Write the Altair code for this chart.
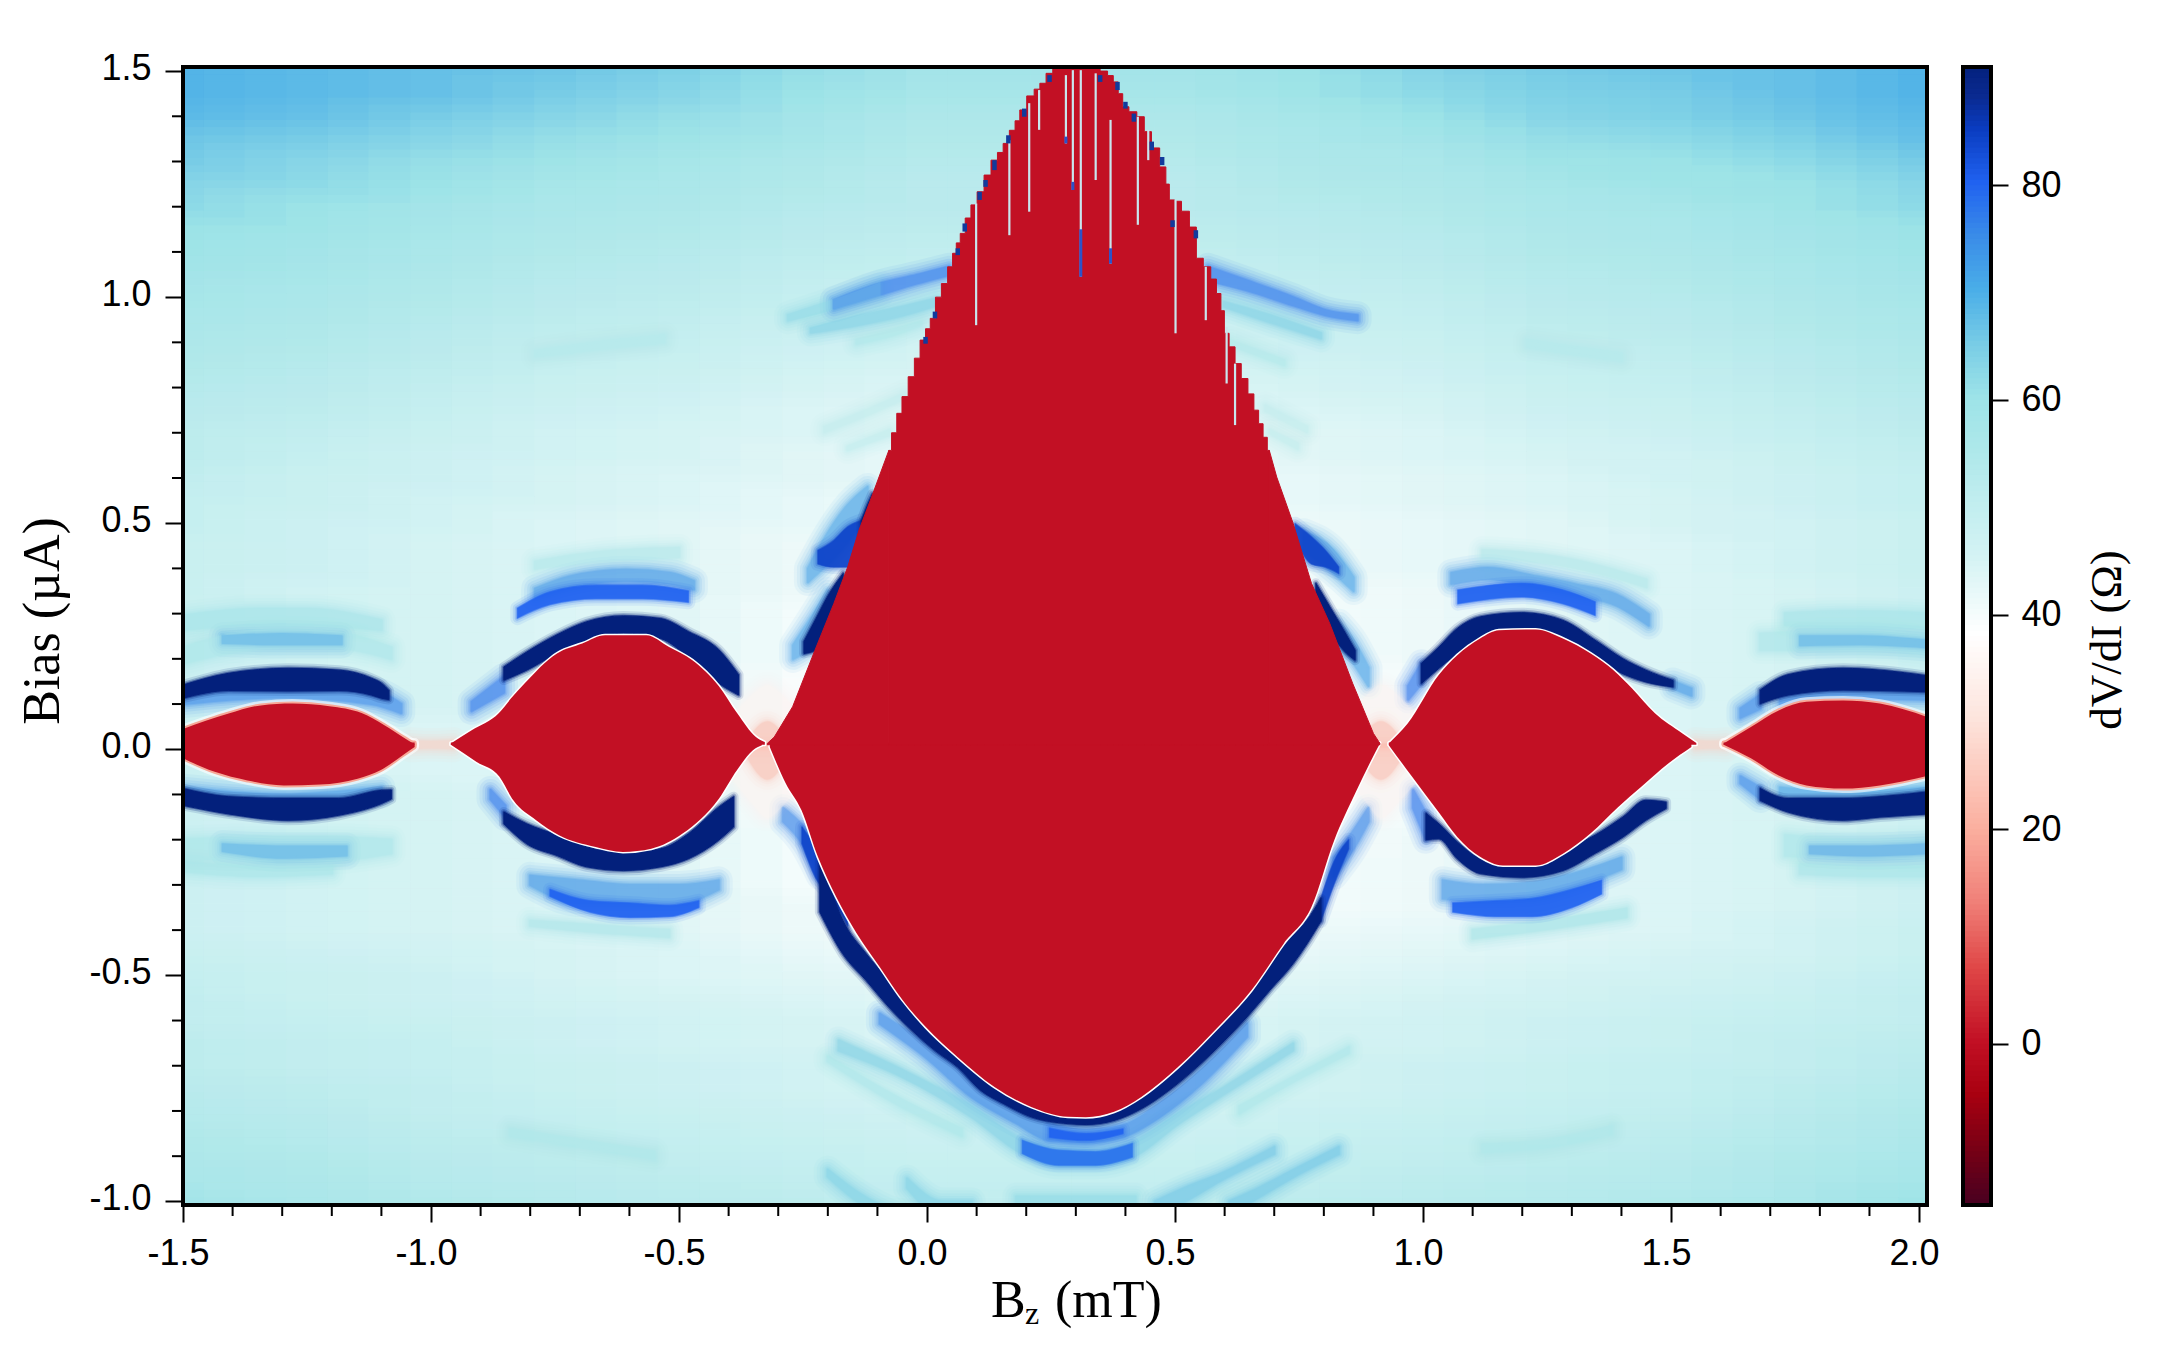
import altair as alt
import pandas as pd

# colour bar stops
color_stops = [-15, -10, -5, 0, 7, 13, 20, 30, 38, 45, 55, 60, 65, 70, 75, 80, 85, 88, 91]
color_hex = ["#4a0020", "#780015", "#a80010", "#c21024", "#e04848", "#f08078", "#fbb0a0", "#fde4dc",
             "#ffffff", "#d5f3f4", "#aee8ea", "#9de3e8", "#78cce6", "#4aaee8", "#3a8ce8", "#2062f0",
             "#0a3cc0", "#0a2a90", "#03207c"]
cscale = alt.Scale(domain=color_stops, range=color_hex, clamp=True, interpolate="rgb")

# background dV/dI, rows from +1.5 to -1.0 uA
grid_bias = [1.5, 1.45, 1.4, 1.35, 1.3, 1.25, 1.2, 1.15, 1.1, 1.05, 1.0, 0.95, 0.9, 0.85, 0.8, 0.75, 0.7,
             0.65, 0.6, 0.55, 0.5, 0.45, 0.4, 0.35, 0.3, 0.25, 0.2, 0.15, 0.1, 0.05, 0.0, -0.05, -0.1, -0.15,
             -0.2, -0.25, -0.3, -0.35, -0.4, -0.45, -0.5, -0.55, -0.6, -0.65, -0.7, -0.75, -0.8, -0.85, -0.9,
             -0.95, -1.0]
grid_bz = [-1.5, -1.25, -1.0, -0.75, -0.5, -0.25, 0.0, 0.25, 0.5, 0.75, 1.0, 1.25, 1.5, 1.75, 2.0]
grid_rows = [
    [69, 68, 67, 66, 64, 61, 58, 58, 58, 60, 63, 65, 66, 67, 69],
    [69, 68, 67, 65, 63, 60, 57, 57, 57, 59, 62, 64, 65, 67, 69],
    [68, 67, 65, 63, 61, 58, 55, 55, 55, 57, 60, 63, 64, 66, 68],
    [66, 65, 63, 61, 59, 57, 54, 54, 54, 56, 58, 61, 62, 64, 67],
    [65, 63, 61, 59, 57, 55, 53, 53, 53, 55, 56, 59, 60, 62, 65],
    [63, 62, 60, 57, 56, 54, 52, 52, 52, 54, 55, 57, 59, 60, 63],
    [62, 60, 58, 56, 55, 53, 52, 52, 52, 53, 54, 56, 57, 59, 62],
    [60, 59, 57, 55, 54, 52, 51, 51, 51, 52, 53, 55, 56, 58, 60],
    [59, 58, 56, 54, 53, 51, 50, 50, 50, 51, 52, 54, 55, 57, 59],
    [58, 57, 55, 53, 52, 50, 49, 49, 49, 50, 51, 53, 54, 56, 58],
    [57, 56, 54, 52, 51, 49, 48, 48, 48, 49, 50, 52, 53, 55, 57],
    [56, 55, 53, 51, 50, 48, 47, 47, 47, 48, 49, 51, 52, 54, 56],
    [55, 54, 52, 50, 49, 47, 46, 46, 46, 47, 48, 50, 51, 53, 55],
    [54, 53, 51, 49, 48, 46, 45, 45, 45, 46, 47, 49, 50, 52, 54],
    [53, 52, 50, 48, 47, 45, 44, 44, 44, 45, 46, 48, 49, 51, 53],
    [52, 51, 49, 47, 46, 44, 43, 43, 43, 44, 45, 47, 48, 50, 52],
    [51, 50, 48, 46, 45, 44, 43, 43, 43, 43, 44, 46, 47, 49, 51],
    [51, 49, 47, 46, 45, 43, 42, 42, 42, 43, 44, 45, 46, 48, 50],
    [50, 48, 47, 45, 44, 43, 42, 42, 42, 42, 43, 44, 46, 47, 49],
    [49, 48, 46, 45, 44, 42, 41, 41, 41, 42, 43, 44, 45, 47, 49],
    [49, 47, 46, 44, 43, 42, 41, 41, 41, 41, 42, 43, 45, 46, 48],
    [48, 47, 45, 44, 43, 41, 40, 40, 40, 41, 42, 43, 44, 46, 48],
    [48, 47, 45, 44, 43, 41, 40, 40, 40, 41, 42, 43, 44, 46, 48],
    [48, 46, 45, 44, 43, 41, 40, 40, 40, 40, 41, 43, 44, 45, 47],
    [47, 46, 45, 44, 43, 40, 40, 40, 40, 40, 41, 43, 44, 45, 47],
    [47, 46, 45, 44, 43, 40, 39, 39, 39, 40, 41, 43, 44, 45, 47],
    [47, 46, 45, 44, 43, 40, 39, 39, 39, 39, 41, 43, 44, 45, 47],
    [47, 46, 45, 44, 43, 39, 39, 39, 39, 39, 40, 43, 44, 45, 47],
    [47, 46, 45, 44, 43, 39, 39, 39, 39, 39, 40, 43, 44, 45, 47],
    [47, 46, 44, 44, 43, 39, 39, 39, 39, 39, 40, 43, 44, 45, 47],
    [47, 46, 44, 44, 43, 39, 39, 39, 39, 39, 40, 43, 44, 45, 47],
    [47, 46, 44, 44, 43, 39, 39, 39, 39, 39, 40, 43, 44, 45, 47],
    [47, 46, 45, 44, 43, 39, 39, 39, 39, 39, 40, 43, 44, 45, 47],
    [47, 46, 45, 44, 43, 39, 39, 39, 39, 39, 40, 43, 44, 45, 47],
    [47, 46, 45, 44, 43, 40, 39, 39, 39, 39, 41, 43, 44, 45, 47],
    [47, 46, 45, 44, 43, 40, 39, 39, 39, 40, 41, 43, 44, 45, 47],
    [47, 46, 45, 44, 43, 40, 40, 40, 40, 40, 41, 43, 44, 45, 47],
    [47, 46, 45, 44, 43, 41, 40, 40, 40, 40, 41, 43, 44, 45, 47],
    [47, 46, 45, 44, 43, 41, 40, 40, 40, 41, 42, 43, 44, 46, 48],
    [48, 47, 46, 45, 44, 42, 41, 41, 41, 42, 43, 44, 45, 46, 48],
    [49, 48, 47, 45, 44, 43, 42, 42, 42, 43, 44, 45, 46, 47, 49],
    [50, 48, 47, 46, 45, 44, 43, 43, 43, 44, 45, 46, 47, 48, 50],
    [50, 49, 48, 47, 46, 45, 44, 44, 44, 45, 46, 47, 48, 49, 50],
    [51, 50, 49, 47, 46, 45, 44, 44, 44, 45, 46, 47, 48, 50, 51],
    [51, 50, 49, 48, 47, 46, 45, 45, 45, 46, 47, 48, 49, 50, 52],
    [52, 51, 50, 48, 47, 46, 45, 45, 45, 46, 47, 48, 49, 51, 53],
    [53, 52, 50, 49, 48, 47, 46, 46, 46, 47, 48, 49, 50, 52, 54],
    [54, 53, 51, 50, 49, 48, 47, 47, 47, 48, 49, 50, 51, 53, 55],
    [55, 54, 52, 51, 50, 49, 48, 48, 48, 49, 50, 51, 52, 54, 56],
    [56, 55, 53, 52, 51, 50, 49, 49, 49, 50, 51, 52, 53, 55, 57],
    [58, 56, 54, 53, 52, 51, 50, 50, 50, 51, 52, 53, 54, 56, 59],
]

# zero-resistance lobes, edges
a_up_bz = [-1.5, -1.408, -1.343, -1.279, -1.205, -1.14, -1.094, -1.057, -1.033]
a_up_i = [0.045, 0.079, 0.097, 0.101, 0.095, 0.08, 0.053, 0.027, 0.011]
a_lo_bz = [-1.5, -1.436, -1.37, -1.297, -1.223, -1.148, -1.101, -1.057, -1.033]
a_lo_i = [-0.02, -0.05, -0.069, -0.08, -0.078, -0.065, -0.046, -0.013, 0.005]
b_up_bz = [-0.96, -0.918, -0.863, -0.839, -0.812, -0.746, -0.695, -0.649, -0.566, -0.52, -0.473, -0.42, -0.383, -0.345, -0.327]
b_up_i = [0.013, 0.042, 0.08, 0.112, 0.145, 0.212, 0.234, 0.252, 0.252, 0.226, 0.197, 0.14, 0.08, 0.027, 0.016]
b_lo_bz = [-0.96, -0.908, -0.862, -0.834, -0.788, -0.742, -0.668, -0.613, -0.556, -0.492, -0.42, -0.383, -0.351, -0.333]
b_lo_i = [0.01, -0.028, -0.061, -0.113, -0.157, -0.19, -0.216, -0.227, -0.22, -0.186, -0.11, -0.046, -0.002, 0.009]
c_up_bz = [0.931, 0.969, 1.032, 1.069, 1.115, 1.153, 1.227, 1.282, 1.338, 1.384, 1.421, 1.467, 1.523, 1.551]
c_up_i = [0.013, 0.057, 0.165, 0.208, 0.245, 0.263, 0.265, 0.245, 0.212, 0.175, 0.135, 0.08, 0.035, 0.014]
c_lo_bz = [0.931, 0.978, 1.032, 1.069, 1.115, 1.161, 1.227, 1.282, 1.338, 1.393, 1.44, 1.495, 1.541]
c_lo_i = [0.009, -0.061, -0.14, -0.194, -0.238, -0.257, -0.257, -0.231, -0.186, -0.128, -0.083, -0.031, 0.005]
d_up_bz = [1.606, 1.661, 1.717, 1.773, 1.847, 1.921, 2.02]
d_up_i = [0.013, 0.049, 0.086, 0.105, 0.108, 0.101, 0.07]
d_lo_bz = [1.606, 1.661, 1.717, 1.773, 1.847, 1.921, 2.02]
d_lo_i = [0.01, -0.02, -0.058, -0.08, -0.087, -0.08, -0.058]
main_ul_bz = [-0.322, -0.308, -0.271, -0.226, -0.188, -0.16, -0.137, -0.109, -0.077]
main_ul_i = [0.013, 0.027, 0.094, 0.219, 0.322, 0.403, 0.485, 0.566, 0.661]
main_ur_bz = [0.69, 0.705, 0.738, 0.775, 0.812, 0.858, 0.9, 0.913]
main_ur_i = [0.661, 0.602, 0.5, 0.367, 0.278, 0.146, 0.035, 0.013]
main_peak_bz = [-0.077, -0.066, -0.056, -0.045, -0.031, -0.02, -0.008, 0.002, 0.011, 0.023, 0.035, 0.048, 0.055, 0.063,
                0.071, 0.083, 0.094, 0.108, 0.122, 0.136, 0.148, 0.159, 0.173, 0.182, 0.192, 0.21, 0.222, 0.233, 0.247,
                0.26, 0.34, 0.358, 0.37, 0.381, 0.39, 0.399, 0.415, 0.431, 0.445, 0.46, 0.478, 0.485, 0.492, 0.506, 0.52,
                0.538, 0.548, 0.566, 0.578, 0.589, 0.596, 0.603, 0.615, 0.627, 0.64, 0.654, 0.664, 0.673, 0.682, 0.69]
main_peak_i = [0.661, 0.7, 0.743, 0.78, 0.824, 0.865, 0.905, 0.93, 0.953, 1.0, 1.03, 1.067, 1.097, 1.12,
               1.141, 1.175, 1.204, 1.233, 1.27, 1.303, 1.32, 1.34, 1.369, 1.39, 1.414, 1.445, 1.46, 1.473, 1.495,
               1.51, 1.51, 1.5, 1.49, 1.476, 1.45, 1.421, 1.41, 1.399, 1.366, 1.33, 1.288, 1.25, 1.215, 1.212, 1.19,
               1.155, 1.086, 1.067, 1.04, 1.008, 0.97, 0.92, 0.89, 0.853, 0.82, 0.786, 0.75, 0.72, 0.69, 0.661]
main_lo_bz = [-0.317, -0.285, -0.253, -0.22, -0.183, -0.142, -0.095, -0.049, -0.003, 0.062, 0.136, 0.21, 0.284, 0.32,
              0.377, 0.432, 0.506, 0.58, 0.654, 0.719, 0.775, 0.821, 0.863, 0.904, 0.913]
main_lo_i = [0.005, -0.075, -0.135, -0.238, -0.327, -0.407, -0.482, -0.555, -0.614, -0.681, -0.747, -0.791, -0.813,
             -0.814, -0.802, -0.769, -0.703, -0.622, -0.533, -0.43, -0.349, -0.201, -0.098, -0.006, 0.013]

# bands: (dV/dI, Bz, top edge, bottom edge)
p1 = (35, [-0.4, -0.35, -0.322, -0.295, -0.24], [0.06, 0.12, 0.14, 0.12, 0.05], [0.0, 0.0, 0.0, 0.0, 0.0])
p2 = (20, [-0.36, -0.322, -0.285], [0.02, 0.06, 0.02], [0.0, 0.0, 0.0])
p3 = (35, [-0.4, -0.35, -0.322, -0.29, -0.24], [0.0, 0.0, 0.0, 0.0, 0.0], [-0.05, -0.12, -0.15, -0.12, -0.05])
p4 = (20, [-0.36, -0.322, -0.285], [0.01, 0.01, 0.01], [-0.02, -0.065, -0.02])
p5 = (35, [0.85, 0.89, 0.915, 0.945, 1.0], [0.05, 0.12, 0.14, 0.12, 0.05], [0.0, 0.0, 0.0, 0.0, 0.0])
p6 = (20, [0.875, 0.915, 0.955], [0.02, 0.06, 0.02], [0.0, 0.0, 0.0])
p7 = (35, [0.85, 0.89, 0.915, 0.945, 1.0], [0.0, 0.0, 0.0, 0.0, 0.0], [-0.05, -0.12, -0.15, -0.12, -0.05])
p8 = (20, [0.875, 0.915, 0.955], [0.01, 0.01, 0.01], [-0.02, -0.065, -0.02])
p9 = (26, [-1.04, -1.0, -0.955], [0.018, 0.016, 0.018], [0.002, 0.004, 0.002])
p10 = (26, [1.55, 1.58, 1.61], [0.018, 0.016, 0.018], [0.002, 0.004, 0.002])

a2 = (56, [-1.5, -1.4, -1.3, -1.2, -1.08], [0.225, 0.255, 0.265, 0.26, 0.225], [0.19, 0.215, 0.225, 0.225, 0.2])
a2c = (72, [-1.42, -1.3, -1.18], [0.25, 0.255, 0.25], [0.235, 0.232, 0.232])
a3 = (58, [-1.5, -1.35, -1.25, -1.1], [0.295, 0.31, 0.31, 0.285], [0.265, 0.275, 0.275, 0.265])
a1f = (76, [-1.5, -1.3, -1.12, -1.06], [0.12, 0.135, 0.13, 0.1], [0.1, 0.115, 0.1, 0.08])
a4 = (74, [-1.5, -1.3, -1.1], [-0.085, -0.1, -0.085], [-0.1, -0.115, -0.1])
a5 = (56, [-1.5, -1.35, -1.2, -1.08], [-0.2, -0.195, -0.195, -0.2], [-0.24, -0.245, -0.245, -0.23])
a5c = (72, [-1.42, -1.3, -1.17], [-0.21, -0.215, -0.215], [-0.225, -0.24, -0.235])
a6 = (57, [-1.5, -1.35, -1.2], [-0.25, -0.26, -0.26], [-0.27, -0.28, -0.275])
d2 = (56, [1.68, 1.8, 1.92, 2.02], [0.255, 0.26, 0.26, 0.25], [0.22, 0.22, 0.22, 0.21])
d2c = (72, [1.76, 1.88, 2.02], [0.25, 0.25, 0.24], [0.23, 0.232, 0.225])
d3 = (58, [1.73, 1.85, 2.02], [0.3, 0.305, 0.3], [0.275, 0.27, 0.27])
d1f = (76, [1.72, 1.85, 2.02], [0.115, 0.135, 0.13], [0.095, 0.112, 0.11])
d4 = (72, [1.72, 1.85, 2.02], [-0.085, -0.095, -0.085], [-0.1, -0.11, -0.1])
d5 = (56, [1.73, 1.88, 2.02], [-0.19, -0.2, -0.2], [-0.235, -0.24, -0.24])
d5c = (74, [1.78, 1.9, 2.02], [-0.215, -0.215, -0.21], [-0.23, -0.235, -0.23])
d6 = (57, [1.76, 1.9, 2.02], [-0.255, -0.26, -0.26], [-0.275, -0.28, -0.28])

a1 = (91, [-1.5, -1.408, -1.288, -1.186, -1.12, -1.1, -1.085], [0.142, 0.168, 0.179, 0.175, 0.157, 0.146, 0.13],
      [0.113, 0.13, 0.129, 0.13, 0.12, 0.113, 0.11])
a7 = (91, [-1.5, -1.408, -1.288, -1.186, -1.1, -1.08], [-0.087, -0.105, -0.109, -0.109, -0.091, -0.09],
      [-0.124, -0.143, -0.157, -0.146, -0.12, -0.11])
d1t = (76, [1.64, 1.68], [0.09, 0.12], [0.07, 0.09])
d1 = (91, [1.68, 1.736, 1.847, 1.921, 2.02], [0.131, 0.165, 0.179, 0.175, 0.162], [0.101, 0.12, 0.131, 0.13, 0.127])
d7t = (76, [1.64, 1.68], [-0.06, -0.085], [-0.075, -0.11])
d7 = (91, [1.68, 1.736, 1.847, 1.921, 2.02], [-0.087, -0.109, -0.109, -0.105, -0.094],
      [-0.113, -0.139, -0.157, -0.15, -0.143])

b1t = (78, [-0.918, -0.853], [0.105, 0.16], [0.085, 0.125])
b1 = (91, [-0.853, -0.807, -0.746, -0.686, -0.612, -0.537, -0.481, -0.42, -0.38],
      [0.182, 0.215, 0.253, 0.282, 0.295, 0.289, 0.26, 0.22, 0.165],
      [0.153, 0.175, 0.212, 0.238, 0.257, 0.245, 0.204, 0.146, 0.12])
b2a = (80, [-0.826, -0.76, -0.667, -0.574, -0.481], [0.312, 0.348, 0.363, 0.363, 0.35], [0.29, 0.32, 0.333, 0.333, 0.325])
b2b = (74, [-0.79, -0.72, -0.607, -0.517, -0.47], [0.355, 0.382, 0.397, 0.39, 0.372], [0.335, 0.358, 0.373, 0.366, 0.354])
b3 = (54, [-0.79, -0.667, -0.5], [0.415, 0.435, 0.445], [0.4, 0.415, 0.425])
b7t = (78, [-0.88, -0.85], [-0.09, -0.125], [-0.11, -0.15])
b7 = (91, [-0.853, -0.807, -0.746, -0.686, -0.612, -0.537, -0.481, -0.42, -0.39],
      [-0.139, -0.165, -0.19, -0.216, -0.227, -0.22, -0.187, -0.128, -0.105],
      [-0.165, -0.209, -0.235, -0.26, -0.268, -0.26, -0.242, -0.201, -0.172])
b8o = (74, [-0.8, -0.7, -0.6, -0.5, -0.42], [-0.28, -0.29, -0.3, -0.3, -0.29], [-0.3, -0.34, -0.34, -0.34, -0.31])
b8c = (80, [-0.76, -0.68, -0.6, -0.52, -0.46], [-0.31, -0.335, -0.34, -0.345, -0.335], [-0.325, -0.36, -0.372, -0.37, -0.35])
b9 = (56, [-0.8, -0.66, -0.52], [-0.38, -0.39, -0.4], [-0.39, -0.405, -0.415])

c1t = (78, [0.97, 0.997], [0.14, 0.19], [0.11, 0.146])
c1 = (91, [0.997, 1.032, 1.069, 1.116, 1.199, 1.282, 1.347, 1.403, 1.449, 1.504],
      [0.19, 0.226, 0.267, 0.293, 0.302, 0.285, 0.241, 0.2, 0.175, 0.152],
      [0.146, 0.179, 0.212, 0.248, 0.267, 0.241, 0.2, 0.167, 0.149, 0.138])
c1e = (74, [1.504, 1.541], [0.15, 0.134], [0.135, 0.119])
c2a = (80, [1.07, 1.199, 1.282, 1.347], [0.352, 0.367, 0.352, 0.326], [0.322, 0.337, 0.322, 0.296])
c2b = (74, [1.057, 1.13, 1.23, 1.31, 1.39, 1.455], [0.39, 0.401, 0.382, 0.364, 0.342, 0.298], [0.366, 0.377, 0.358, 0.34, 0.318, 0.274])
c3 = (54, [1.12, 1.24, 1.36, 1.45], [0.44, 0.43, 0.404, 0.375], [0.424, 0.414, 0.388, 0.359])
c7t = (78, [0.98, 1.006], [-0.09, -0.142], [-0.13, -0.2])
c7 = (91, [1.006, 1.032, 1.069, 1.116, 1.199, 1.282, 1.347, 1.403, 1.449, 1.49],
      [-0.142, -0.165, -0.205, -0.242, -0.257, -0.223, -0.19, -0.15, -0.113, -0.117],
      [-0.2, -0.198, -0.242, -0.275, -0.283, -0.268, -0.23, -0.194, -0.157, -0.131])
c8o = (74, [1.04, 1.12, 1.22, 1.32, 1.4], [-0.29, -0.3, -0.295, -0.27, -0.24], [-0.33, -0.335, -0.33, -0.3, -0.265])
c8c = (80, [1.06, 1.15, 1.22, 1.3, 1.36], [-0.34, -0.335, -0.33, -0.31, -0.29], [-0.36, -0.37, -0.37, -0.35, -0.32])
c9 = (58, [1.1, 1.28, 1.41], [-0.4, -0.375, -0.353], [-0.418, -0.393, -0.371])

# flanks of the central lobe
f1o = (72, [-0.24, -0.21, -0.16, -0.12], [0.4, 0.46, 0.54, 0.58], [0.37, 0.4, 0.46, 0.52])
f2o = (72, [-0.27, -0.24, -0.2], [0.23, 0.28, 0.35], [0.2, 0.22, 0.28])
f4o = (72, [0.76, 0.82, 0.86], [0.48, 0.44, 0.38], [0.44, 0.39, 0.35])
f5o = (72, [0.83, 0.86, 0.89], [0.28, 0.24, 0.18], [0.23, 0.19, 0.14])
n1 = (76, [-0.29, -0.25, -0.216], [-0.13, -0.17, -0.22], [-0.16, -0.21, -0.28])
n2 = (76, [0.82, 0.86, 0.89], [-0.24, -0.18, -0.13], [-0.28, -0.22, -0.16])
f1 = (84, [-0.22, -0.188, -0.16, -0.132], [0.44, 0.462, 0.492, 0.506], [0.41, 0.403, 0.403, 0.484])
f2 = (91, [-0.248, -0.225, -0.197, -0.169], [0.238, 0.286, 0.344, 0.389], [0.212, 0.219, 0.293, 0.352])
f3 = (91, [-0.132, -0.12, -0.11], [0.506, 0.54, 0.565], [0.47, 0.5, 0.54])
f4 = (84, [0.742, 0.775, 0.803, 0.83], [0.499, 0.47, 0.44, 0.403], [0.47, 0.41, 0.403, 0.389])
f5 = (91, [0.784, 0.812, 0.84, 0.863], [0.367, 0.315, 0.263, 0.219], [0.337, 0.263, 0.219, 0.197])
f6 = (84, [0.794, 0.82, 0.85], [-0.33, -0.25, -0.2], [-0.38, -0.3, -0.22])
f7 = (84, [-0.252, -0.225, -0.188, -0.16], [-0.172, -0.216, -0.29, -0.33], [-0.209, -0.283, -0.334, -0.39])

v0 = (91, [-0.216, -0.17, -0.123, -0.077, -0.03, 0.016, 0.062, 0.108, 0.155, 0.21, 0.284, 0.321, 0.377, 0.432, 0.488,
           0.544, 0.6, 0.645, 0.691, 0.738, 0.766, 0.794],
      [-0.238, -0.378, -0.452, -0.511, -0.57, -0.625, -0.681, -0.725, -0.762, -0.791, -0.813, -0.813, -0.802, -0.773,
       -0.721, -0.666, -0.6, -0.541, -0.474, -0.408, -0.378, -0.33],
      [-0.36, -0.452, -0.511, -0.57, -0.622, -0.666, -0.703, -0.754, -0.784, -0.813, -0.828, -0.83, -0.821, -0.795,
       -0.754, -0.703, -0.644, -0.592, -0.533, -0.474, -0.43, -0.38])
v1 = (76, [-0.095, -0.003, 0.09, 0.182, 0.247, 0.321, 0.395, 0.469, 0.553, 0.645],
      [-0.585, -0.651, -0.732, -0.799, -0.828, -0.843, -0.832, -0.784, -0.71, -0.607],
      [-0.607, -0.681, -0.769, -0.828, -0.865, -0.869, -0.857, -0.813, -0.74, -0.636])
v1c = (80, [0.247, 0.321, 0.395], [-0.838, -0.85, -0.84], [-0.858, -0.865, -0.85])
v2f = (64, [-0.178, -0.049, 0.09, 0.192, 0.266, 0.34, 0.414, 0.507, 0.6, 0.738],
       [-0.644, -0.71, -0.791, -0.865, -0.887, -0.89, -0.872, -0.806, -0.747, -0.651],
       [-0.666, -0.725, -0.813, -0.894, -0.92, -0.92, -0.902, -0.828, -0.762, -0.666])
v2 = (78, [0.192, 0.266, 0.34, 0.414], [-0.865, -0.887, -0.89, -0.872], [-0.894, -0.92, -0.92, -0.902])
v3 = (56, [-0.2, -0.06, 0.07], [-0.68, -0.77, -0.84], [-0.69, -0.785, -0.855])
v4 = (56, [0.63, 0.73, 0.85], [-0.79, -0.73, -0.66], [-0.805, -0.74, -0.672])
v5 = (64, [-0.2, -0.14, -0.07, -0.02], [-0.93, -0.98, -1.02, -1.03], [-0.945, -1.0, -1.04, -1.05])
v6 = (64, [-0.04, 0.03, 0.09], [-0.95, -1.0, -1.0], [-0.97, -1.03, -1.03])
v7 = (62, [0.18, 0.3, 0.42], [-0.99, -0.99, -0.99], [-1.03, -1.03, -1.03])
v8 = (66, [0.46, 0.52, 0.59, 0.7], [-1.0, -0.97, -0.94, -0.88], [-1.03, -1.0, -0.955, -0.895])
v9 = (66, [0.61, 0.67, 0.74, 0.83], [-1.0, -0.97, -0.93, -0.88], [-1.03, -0.99, -0.945, -0.895])

# arcs above the peak
u1f = (62, [-0.28, -0.188, -0.096], [0.96, 0.993, 1.03], [0.949, 0.975, 1.005])
u1 = (78, [-0.188, -0.096, -0.021, 0.044], [0.993, 1.03, 1.049, 1.067], [0.975, 1.005, 1.03, 1.049])
u2 = (64, [-0.234, -0.142, -0.049, 0.02], [0.93, 0.957, 0.979, 0.997], [0.922, 0.938, 0.96, 0.982])
u3 = (55, [-0.142, -0.068, -0.012], [0.905, 0.927, 0.945], [0.897, 0.916, 0.938])
u4 = (50, [-0.206, -0.113, -0.045], [0.713, 0.754, 0.787], [0.702, 0.743, 0.776])
u5 = (50, [-0.16, -0.076], [0.669, 0.706], [0.662, 0.695])
r1 = (78, [0.567, 0.645, 0.738, 0.804, 0.868], [1.067, 1.037, 1.0, 0.971, 0.96], [1.037, 1.015, 0.982, 0.96, 0.949])
r2 = (64, [0.599, 0.691, 0.794], [0.989, 0.96, 0.92], [0.979, 0.945, 0.909])
r3 = (54, [0.61, 0.72], [0.905, 0.86], [0.895, 0.85])
r4 = (50, [0.682, 0.766], [0.76, 0.713], [0.749, 0.702])
r5 = (50, [0.691, 0.747], [0.706, 0.676], [0.699, 0.665])
o1 = (53, [-0.79, -0.66, -0.53], [0.88, 0.9, 0.915], [0.87, 0.885, 0.9])
o2 = (53, [1.21, 1.3, 1.4], [0.905, 0.89, 0.875], [0.89, 0.875, 0.86])
o3 = (55, [-0.84, -0.7, -0.55], [-0.84, -0.865, -0.89], [-0.855, -0.88, -0.905])
o4 = (55, [1.12, 1.25, 1.38], [-0.875, -0.865, -0.835], [-0.89, -0.88, -0.85])

# order matters, faint arcs first and dark ones on top
soft_bands = [o1, o2, o3, o4, u5, u4, u3, u2, u1f, u1, r5, r4, r3, r2, r1, a3, a2, a2c, a6, a5, a5c, d3, d2, d2c, d6, d5, d5c,
              b3, b2b, b9, b8o, c3, c2b, c9, c8o, v3, v4, v5, v6, v7, v8, v9, v2f, v1,
              f1o, f2o, f4o, f5o, n1, n2, p1, p3, p5, p7, p2, p4, p6, p8, p9, p10,
              a1f, a4, d1f, d4, d1t, d7t, b1t, b7t, c1t, c1e, c7t]
mid_bands = [b2a, b8c, c2a, c8c, v2, v1c, f1, f4, f6, f7]
dark_bands = [a1, a7, d1, d7, b1, b7, c1, c7, f2, f3, f5, v0]

# measurement glitches near the top of the central lobe
streak_bz = [0.099, 0.166, 0.206, 0.226, 0.28, 0.294, 0.31, 0.34, 0.37, 0.425, 0.446, 0.501, 0.562, 0.604, 0.621]
streak_top = [1.207, 1.347, 1.429, 1.458, 1.491, 1.502, 1.502, 1.495, 1.392, 1.399, 1.37, 1.215, 1.067, 0.934, 0.853]
streak_bot = [0.938, 1.137, 1.189, 1.37, 1.34, 1.237, 1.045, 1.259, 1.074, 1.16, 1.303, 0.92, 0.949, 0.809, 0.717]
tip_bz = [0.28, 0.294, 0.31, 0.37]
tip_top = [1.355, 1.255, 1.15, 1.108]
tip_bot = [1.34, 1.237, 1.045, 1.074]
speck_bz = [0.247, 0.196, 0.164, 0.136, 0.118, 0.106, 0.076, 0.062, 0.016, -0.003, 0.349, 0.384, 0.4, 0.417, 0.453, 0.474, 0.495, 0.542]
speck_top = [1.491, 1.417, 1.358, 1.303, 1.259, 1.233, 1.163, 1.108, 0.968, 0.912, 1.491, 1.476, 1.432, 1.406, 1.344, 1.31, 1.17, 1.148]
speck_bot = [1.476, 1.399, 1.34, 1.281, 1.244, 1.215, 1.145, 1.093, 0.953, 0.897, 1.476, 1.458, 1.417, 1.388, 1.325, 1.292, 1.155, 1.13]

x_ticks = [-1.5, -1.0, -0.5, 0.0, 0.5, 1.0, 1.5, 2.0]
y_ticks = [-1.0, -0.5, 0.0, 0.5, 1.0, 1.5]
x_minor = [-1.4, -1.3, -1.2, -1.1, -0.9, -0.8, -0.7, -0.6, -0.4, -0.3, -0.2, -0.1, 0.1, 0.2, 0.3, 0.4, 0.6, 0.7, 0.8, 0.9,
           1.1, 1.2, 1.3, 1.4, 1.6, 1.7, 1.8, 1.9]
y_minor = [-0.9, -0.8, -0.7, -0.6, -0.4, -0.3, -0.2, -0.1, 0.1, 0.2, 0.3, 0.4, 0.6, 0.7, 0.8, 0.9, 1.1, 1.2, 1.3, 1.4]
cbar_ticks = [0, 20, 40, 60, 80]

SANS = "Liberation Sans"
SERIF = "Liberation Serif"
W, H = 1744, 1138
xs = alt.Scale(domain=[-1.5, 2.016], nice=False, zero=False)
ys = alt.Scale(domain=[-1.008, 1.509], nice=False, zero=False)
HYPHEN = "replace(datum.label, '\u2212', '-')"


def grid_cells(dx, dy):
    out = []
    for i, row in zip(grid_bias, grid_rows):
        for bz, v in zip(grid_bz, row):
            out.append({"x0": bz - 0.125 + dx, "x1": bz + 0.125 + dx, "y0": i - 0.025 + dy, "y1": i + 0.025 + dy, "v": v})
    return pd.DataFrame(out)


def band_table(bands):
    rows = []
    for n, (v, bz, top, bot) in enumerate(bands):
        for a, b, c in zip(bz, top, bot):
            rows.append({"band": n, "v": v, "bz": a, "top": b, "bot": c})
    return pd.DataFrame(rows)


def half(name, bz, edge, base):
    return pd.DataFrame({"lobe": name, "bz": bz, "edge": edge, "base": base})


soft_df = band_table(soft_bands)
mid_df = band_table(mid_bands)
dark_df = band_table(dark_bands)
lobes_ad = pd.concat([
    half("a_up", a_up_bz, a_up_i, 0.01), half("a_lo", a_lo_bz, a_lo_i, 0.015),
    half("d_up", d_up_bz, d_up_i, 0.01), half("d_lo", d_lo_bz, d_lo_i, 0.015),
])
lobes_bc = pd.concat([
    half("b_up", b_up_bz, b_up_i, 0.01), half("b_lo", b_lo_bz, b_lo_i, 0.015),
    half("c_up", c_up_bz, c_up_i, 0.01), half("c_lo", c_lo_bz, c_lo_i, 0.015),
    half("m_lo", main_lo_bz, main_lo_i, 0.015),
])
crisp = pd.concat([half("m_ul", main_ul_bz, main_ul_i, 0.01), half("m_ur", main_ur_bz, main_ur_i, 0.01)])
peak = half("m_pk", main_peak_bz, main_peak_i, 0.01)

X = alt.X("bz:Q", scale=xs, title=None)
Y = alt.Y("top:Q", scale=ys, title=None)


def band_layer(df, width, opacity):
    return alt.Chart(df).mark_area(clip=True, strokeWidth=width, opacity=opacity, strokeJoin="round",
                                   interpolate="monotone").encode(
        x=X, y=Y, y2="bot:Q", detail="band:N",
        color=alt.Color("v:Q", scale=cscale, legend=None),
        stroke=alt.Stroke("v:Q", scale=cscale, legend=None),
    )


def lobe_layer(df, **mark):
    return alt.Chart(df).mark_area(clip=True, **mark).encode(
        x=X, y=alt.Y("edge:Q", scale=ys, title=None), y2="base:Q", detail="lobe:N")


def label(txt, px, py, size, font=SERIF, **mark):
    return alt.Chart(pd.DataFrame({"t": [txt]})).mark_text(
        font=font, fontSize=size, color="black", **mark).encode(x=alt.value(px), y=alt.value(py), text="t:N")


def frame(w, h):
    # view stroke sits under the marks, so the box goes on top
    return alt.Chart(pd.DataFrame({"k": [0]})).mark_rect(filled=False, stroke="black", strokeWidth=4).encode(
        x=alt.value(0), x2=alt.value(w), y=alt.value(0), y2=alt.value(h))


background = alt.Chart(grid_cells(0, 0)).mark_rect(clip=True, strokeWidth=1).encode(
    x=alt.X("x0:Q", scale=xs, title=None,
            axis=alt.Axis(values=x_ticks, format=".1f", labelExpr=HYPHEN, tickSize=17, tickWidth=2, tickColor="black",
                          labelPadding=14, labelFont=SANS, labelFontSize=36, labelColor="black", labelOffset=-5,
                          domain=False, grid=False, labelFlush=False, labelOverlap=False)),
    x2="x1:Q",
    y=alt.Y("y0:Q", scale=ys, title=None,
            axis=alt.Axis(values=y_ticks, format=".1f", labelExpr=HYPHEN, tickSize=18, tickWidth=2, tickColor="black",
                          labelPadding=14, labelFont=SANS, labelFontSize=36, labelColor="black", labelOffset=-3,
                          domain=False, grid=False, labelFlush=False, labelOverlap=False)),
    y2="y1:Q",
    color=alt.Color("v:Q", scale=cscale, legend=None),
    stroke=alt.Stroke("v:Q", scale=cscale, legend=None),
)


def background_overlay(dx, dy, opacity):
    # staggered copies of the same grid soften the cell edges
    return alt.Chart(grid_cells(dx, dy)).mark_rect(clip=True, opacity=opacity).encode(
        x=alt.X("x0:Q", scale=xs, title=None), x2="x1:Q",
        y=alt.Y("y0:Q", scale=ys, title=None), y2="y1:Q",
        color=alt.Color("v:Q", scale=cscale, legend=None),
    )


lobe_color = color_hex[3]
layers = [
    background,
    background_overlay(-0.083, 0.0167, 0.5),
    background_overlay(0.083, -0.0167, 0.333),
]
for width, opacity in [(28, 0.06), (22, 0.08), (16, 0.1), (11, 0.13), (7, 0.16), (4, 0.2), (2, 0.25)]:
    layers.append(band_layer(soft_df, width, opacity))
for width, opacity in [(14, 0.08), (9, 0.12), (5, 0.2), (2, 0.4), (0.5, 0.85)]:
    layers.append(band_layer(mid_df, width, opacity))
for width, opacity in [(10, 0.12), (6, 0.25), (3, 0.5), (1, 1)]:
    layers.append(band_layer(dark_df, width, opacity))
layers += [
    lobe_layer(lobes_ad, color="#ffffff", stroke="#ffffff", strokeWidth=9, opacity=0.6, strokeJoin="round", interpolate="monotone"),
    lobe_layer(lobes_ad, color="#f7a898", stroke="#f7a898", strokeWidth=4, strokeJoin="round", interpolate="monotone"),
    lobe_layer(lobes_ad, color=lobe_color, interpolate="monotone"),
    lobe_layer(lobes_bc, color="#ffffff", stroke="#ffffff", strokeWidth=3, strokeJoin="round", interpolate="monotone"),
    lobe_layer(lobes_bc, color=lobe_color, interpolate="monotone"),
    lobe_layer(crisp, color=lobe_color, stroke=lobe_color, strokeWidth=1),
    lobe_layer(peak, color=lobe_color, stroke=lobe_color, strokeWidth=1, interpolate="step"),
]

streaks = pd.DataFrame({"bz": streak_bz, "top": streak_top, "bot": streak_bot})
tips = pd.DataFrame({"bz": tip_bz, "top": tip_top, "bot": tip_bot})
specks = pd.DataFrame({"bz": speck_bz, "top": speck_top, "bot": speck_bot})
layers += [
    alt.Chart(streaks).mark_rule(clip=True, strokeWidth=2.2, color="#c9e6ee").encode(x=X, y=Y, y2="bot:Q"),
    alt.Chart(tips).mark_rule(clip=True, strokeWidth=3, color="#2c52c8").encode(x=X, y=Y, y2="bot:Q"),
    alt.Chart(specks).mark_rule(clip=True, strokeWidth=4.5, color="#123a9c").encode(x=X, y=Y, y2="bot:Q"),
]

# minor ticks, the axis only does one tick length
layers += [
    alt.Chart(pd.DataFrame({"bz": x_minor})).mark_rule(color="black", strokeWidth=2).encode(
        x=X, y=alt.value(H), y2=alt.value(H + 11)),
    alt.Chart(pd.DataFrame({"top": y_minor})).mark_rule(color="black", strokeWidth=2).encode(
        y=Y, x=alt.value(-11), x2=alt.value(0)),
    frame(W, H),
]

# titles as text marks, the x one in pieces for the subscript
layers += [
    label("B", 808, 1250, 52, align="left", baseline="alphabetic"),
    label("z", 842, 1257, 32, align="left", baseline="alphabetic"),
    label("(mT)", 872, 1250, 52, align="left", baseline="alphabetic"),
    label("Bias (µA)", -140, 554, 52, angle=270, align="center", baseline="middle"),
]

main = alt.layer(*layers).properties(width=W, height=H)

levels = [-15 + 0.5 * k for k in range(212)]
bar_df = pd.DataFrame({"lo": levels, "hi": [a + 0.6 for a in levels]})
cbar_rect = alt.Chart(bar_df).mark_rect(clip=True).encode(
    x=alt.value(0), x2=alt.value(28),
    y=alt.Y("lo:Q", scale=alt.Scale(domain=[-15, 91], nice=False, zero=False), title=None,
            axis=alt.Axis(orient="right", values=cbar_ticks, tickSize=17, tickWidth=2, tickColor="black",
                          labelPadding=13, labelFont=SANS, labelFontSize=36, labelColor="black", domain=False,
                          grid=False, labelOverlap=False, labelFlush=False)),
    y2="hi:Q",
    color=alt.Color("lo:Q", scale=cscale, legend=None),
)
cbar = alt.layer(cbar_rect, frame(28, H),
                 label("dV/dI (Ω)", 144, 573, 45, angle=270, align="center", baseline="middle")).properties(
    width=28, height=H)

chart = alt.hconcat(main, cbar, spacing=21).configure_view(stroke=None).properties(
    padding={"left": 9, "top": 42, "right": 5, "bottom": 5}, background="white")

chart.save("out.html", embed_options={"renderer": "svg", "actions": False})
